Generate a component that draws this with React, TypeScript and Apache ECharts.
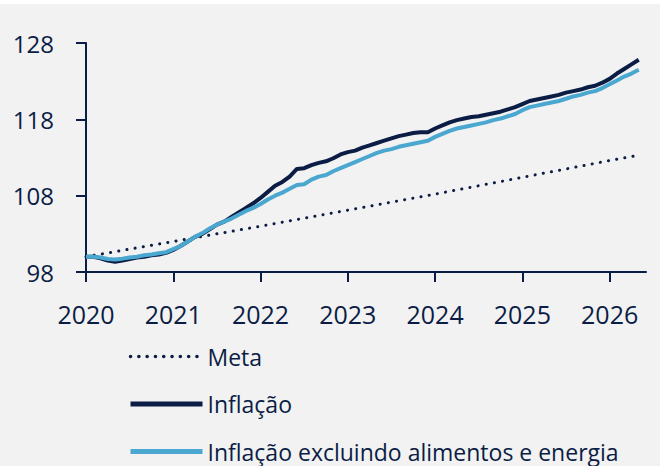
import React, { useEffect, useRef } from 'react';
import * as echarts from 'echarts';

// Month index 0 = Jan 2020
const yearTickMonths = [0, 12, 24, 36, 48, 60, 72];
const yearLabels = ['2020', '2021', '2022', '2023', '2024', '2025', '2026'];
const yTickValues = [98, 108, 118, 128];

const seriesNames = ['Meta', 'Inflação', 'Inflação excluindo alimentos e energia'];

const metaMonths = [0, 12, 24, 36, 48, 60, 72, 76];
const metaValues = [100.0, 102.0, 104.0, 106.1, 108.2, 110.4, 112.6, 113.3];

const inflacao = [
  100.0, 100.0, 99.8, 99.5, 99.35, 99.5, 99.7, 99.9, 100.0, 100.2, 100.3, 100.5,
  100.9, 101.4, 102.0, 102.6, 103.0, 103.6, 104.2, 104.6, 105.2, 105.8, 106.4, 107.0,
  107.7, 108.5, 109.3, 109.8, 110.5, 111.5, 111.6, 112.0, 112.3, 112.5, 112.9, 113.4,
  113.7, 113.9, 114.3, 114.6, 114.9, 115.2, 115.5, 115.8, 116.0, 116.2, 116.3, 116.3,
  116.8, 117.2, 117.6, 117.9, 118.1, 118.3, 118.4, 118.6, 118.8, 119.0, 119.3, 119.6,
  120.0, 120.4, 120.6, 120.8, 121.0, 121.2, 121.5, 121.7, 121.9, 122.2, 122.4, 122.8,
  123.3, 124.0, 124.6, 125.2, 125.8,
];

const inflacaoCore = [
  100.0, 100.0, 99.9, 99.7, 99.65, 99.75, 99.9, 100.0, 100.2, 100.3, 100.45, 100.6,
  101.0, 101.4, 102.0, 102.6, 103.1, 103.7, 104.2, 104.6, 105.0, 105.5, 106.0, 106.4,
  106.9, 107.5, 108.0, 108.4, 108.9, 109.4, 109.5, 110.1, 110.5, 110.7, 111.2, 111.6,
  112.0, 112.4, 112.8, 113.2, 113.6, 113.9, 114.1, 114.4, 114.6, 114.8, 115.0, 115.2,
  115.7, 116.1, 116.5, 116.8, 117.0, 117.2, 117.4, 117.6, 117.9, 118.1, 118.4, 118.7,
  119.2, 119.6, 119.8, 120.0, 120.2, 120.4, 120.7, 121.0, 121.2, 121.5, 121.7, 122.1,
  122.6, 123.1, 123.6, 124.0, 124.5,
];

const NAVY = '#0b1d45';
const LIGHT = '#4aa7d0';
const FONT = 'Open Sans';
const DOTS = [0.1, 8.2];

export default function App() {
  const ref = useRef<HTMLDivElement>(null);
  useEffect(() => {
    document.body.style.margin = '0';
    const chart = echarts.init(ref.current!, null, { renderer: 'svg' });
    chart.setOption({
      animation: false,
      backgroundColor: '#f2f2f2',
      grid: { left: 86, top: 39, width: 560, height: 229, containLabel: false },
      legend: {
        orient: 'vertical',
        left: 128,
        top: 341,
        padding: 0,
        itemWidth: 72,
        itemHeight: 23,
        itemGap: 24.5,
        data: [
          { name: seriesNames[0], lineStyle: { width: 3.5, type: DOTS, cap: 'round', color: NAVY } },
          { name: seriesNames[1], lineStyle: { width: 5, color: NAVY } },
          { name: seriesNames[2], lineStyle: { width: 5, color: LIGHT } },
        ],
        itemStyle: { opacity: 0 },
        textStyle: { fontSize: 23, color: NAVY, fontFamily: FONT, lineHeight: 23 },
      },
      xAxis: {
        type: 'value',
        min: 0,
        max: 77,
        interval: 12,
        splitLine: { show: false },
        axisLine: { show: true, lineStyle: { color: NAVY, width: 2 } },
        axisTick: {
          show: true,
          length: 10,
          customValues: yearTickMonths,
          lineStyle: { color: NAVY, width: 2 },
        },
        axisLabel: {
          customValues: yearTickMonths,
          margin: 29,
          fontSize: 25,
          color: NAVY,
          fontFamily: FONT,
          formatter: (v: number) => {
            const i = yearTickMonths.indexOf(v);
            return i >= 0 ? yearLabels[i] : '';
          },
        },
      },
      yAxis: {
        type: 'value',
        min: 98,
        max: 128,
        interval: 10,
        splitLine: { show: false },
        axisLine: { show: true, lineStyle: { color: NAVY, width: 2 } },
        axisTick: { show: true, length: 10, lineStyle: { color: NAVY, width: 2 } },
        axisLabel: {
          margin: 32,
          fontSize: 24,
          color: NAVY,
          fontFamily: FONT,
          customValues: yTickValues,
        },
      },
      series: [
        {
          name: seriesNames[0],
          type: 'line',
          symbol: 'none',
          data: metaMonths.map((m, i) => [m, metaValues[i]]),
          lineStyle: { color: NAVY, width: 3, type: DOTS, cap: 'round' },
          itemStyle: { color: NAVY },
        },
        {
          name: seriesNames[1],
          type: 'line',
          symbol: 'none',
          data: inflacao.map((v, i) => [i, v]),
          lineStyle: { color: NAVY, width: 4 },
          itemStyle: { color: NAVY },
        },
        {
          name: seriesNames[2],
          type: 'line',
          symbol: 'none',
          data: inflacaoCore.map((v, i) => [i, v]),
          lineStyle: { color: LIGHT, width: 4 },
          itemStyle: { color: LIGHT },
        },
      ],
    });
    return () => chart.dispose();
  }, []);
  return (
    <div style={{ position: 'relative', width: 664, height: 466, background: '#ffffff' }}>
      <div ref={ref} style={{ position: 'absolute', left: 0, top: 4, width: 660, height: 462 }} />
    </div>
  );
}
